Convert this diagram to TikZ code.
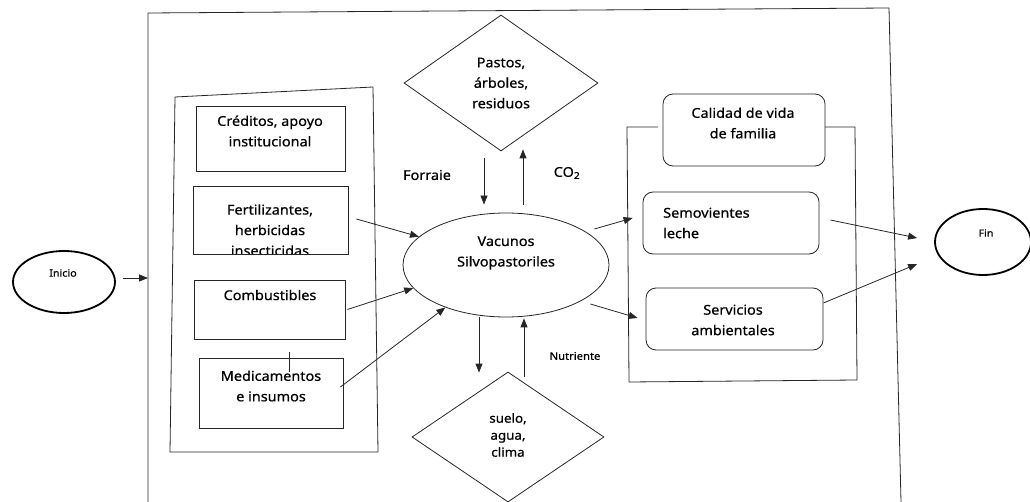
\documentclass[tikz,border=0pt]{standalone}
\usepackage{fontspec}
\setmainfont[FakeStretch=1.07,FakeBold=0.6]{Noto Sans}
\usetikzlibrary{shapes.geometric,calc,arrows.meta}
\begin{document}
\begin{tikzpicture}[x=1pt,y=-1pt,
  ln/.style={draw=black!85, line width=0.8pt},
  box/.style={ln, rectangle, inner sep=0pt},
  rbox/.style={box, rounded corners=10pt},
  arr/.style={ln, -{Triangle[length=9pt,width=7pt]}},
  txt/.style={font=\fontsize{13.5}{20.5}\selectfont, align=center, inner sep=0pt, text=black},
  small/.style={txt, font=\fontsize{10}{12}\selectfont},
  term/.style={draw=black, ellipse, line width=1.8pt, inner sep=0pt},
  dia/.style={ln, diamond, inner sep=0pt, aspect=1.4}]
\useasboundingbox (0,0) rectangle (1030,502);
% main frame
\draw[ln] (148,502) -- (148,13) -- (889,8) -- (901,502);
% left group
\draw[ln] (175,97) -- (373,87) -- (378,452) -- (170,452) -- cycle;
\node[box, minimum width=149pt, minimum height=65pt] (cred) at (270.5,138.5) {};
\node[box, minimum width=155pt, minimum height=68pt] (fert) at (270.5,220) {};
\node[box, minimum width=151pt, minimum height=59pt] (comb) at (269.5,309.5) {};
\node[box, minimum width=144pt, minimum height=70pt] (med) at (271,393) {};
\node[txt] (credt) at (270,131) {Créditos, apoyo\\institucional};
\begin{scope}
\clip (193,186) rectangle (348,253.5);
\node[txt] (fertt) at (270,230) {Fertilizantes,\\herbicidas\\insecticidas};
\end{scope}
\node[txt] (combt) at (270,295) {Combustibles};
\node[txt] (medt) at (271,386) {Medicamentos\\e insumos};
\coordinate (tickA) at (289,352);
\draw[ln] (tickA) -- (289,372);
% start / end
\node[term, minimum width=102pt, minimum height=62pt] (ini) at (64,282) {};
\node[small] (init) at (63,273) {Inicio};
\node[term, minimum width=96pt, minimum height=66pt] (fin) at (983,242) {};
\node[small] (fint) at (986,233) {Fin};
\coordinate (frameL) at (148,278);
\draw[arr] ($(ini.east)+(7,-4)$) -- (frameL);
% center
\node[ln, ellipse, inner sep=0pt, minimum width=206pt, minimum height=104pt] (vac) at (506,265) {};
\node[txt] (vact) at (506,253) {Vacunos\\Silvopastoriles};
\node[dia, minimum width=194pt, minimum height=136pt] (top) at (501,83) {};
\node[txt] (topt) at (501,83) {Pastos,\\árboles,\\residuos};
\node[dia, minimum width=192pt, minimum height=130pt] (bot) at (508,437) {};
\node[txt, font=\fontsize{12.5}{17}\selectfont] (bott) at (508,435) {suelo,\\agua,\\clima};
\node[txt] (forr) at (427,175) {Forraie};
\node[txt] (co2) at (567,173) {CO\textsubscript{2}};
\node[small, font=\fontsize{10.5}{12}\selectfont] (nutr) at (575,356) {Nutriente};
% vertical arrows
\draw[arr] ($(top.south)+(-17,7)$) -- ($(vac.north)+(-22,-8)$);
\draw[arr] ($(vac.north)+(17,-8)$) -- ($(top.south)+(22,-2)$);
\draw[arr] ($(vac.south)+(-27,0)$) -- ($(bot.north)+(-29,1)$);
\draw[arr] ($(bot.north)+(16,5)$) -- ($(vac.south)+(18,1)$);
% left arrows
\draw[arr] ($(fert.east)+(8,-1)$) -- (vac.162);
\draw[arr] ($(comb.east)+(2,0)$) -- (vac.194);
\draw[arr] ($(med.east)+(-3,-6)$) -- (vac.215);
% right group
\draw[ln] (658,127) -- (627,127) -- (629,382) -- (857,380) -- (855,127) -- (825,127);
\node[rbox, minimum width=162pt, minimum height=72pt] (cal) at (744,130) {};
\node[rbox, minimum width=176pt, minimum height=62pt] (sem) at (731,223) {};
\node[rbox, minimum width=177pt, minimum height=62pt] (ser) at (734.5,319) {};
\node[txt] (calt) at (743,123) {Calidad de vida\\de familia};
\node[txt, align=left, anchor=west] (semt) at (663,223) {Semovientes\\leche};
\node[txt] (sert) at (733,320) {Servicios\\ambientales};
\draw[arr] ($(vac.east)+(-15,-36)$) -- ($(sem.west)+(-10,-5)$);
\draw[arr] ($(vac.east)+(-19,39)$) -- ($(ser.west)+(-8,-1)$);
\draw[arr] ($(sem.east)+(11,-3)$) -- ($(fin.west)+(-17,-4)$);
\draw[arr] ($(ser.east)+(0,-16)$) -- ($(fin.west)+(-17,22)$);
\end{tikzpicture}
\end{document}
